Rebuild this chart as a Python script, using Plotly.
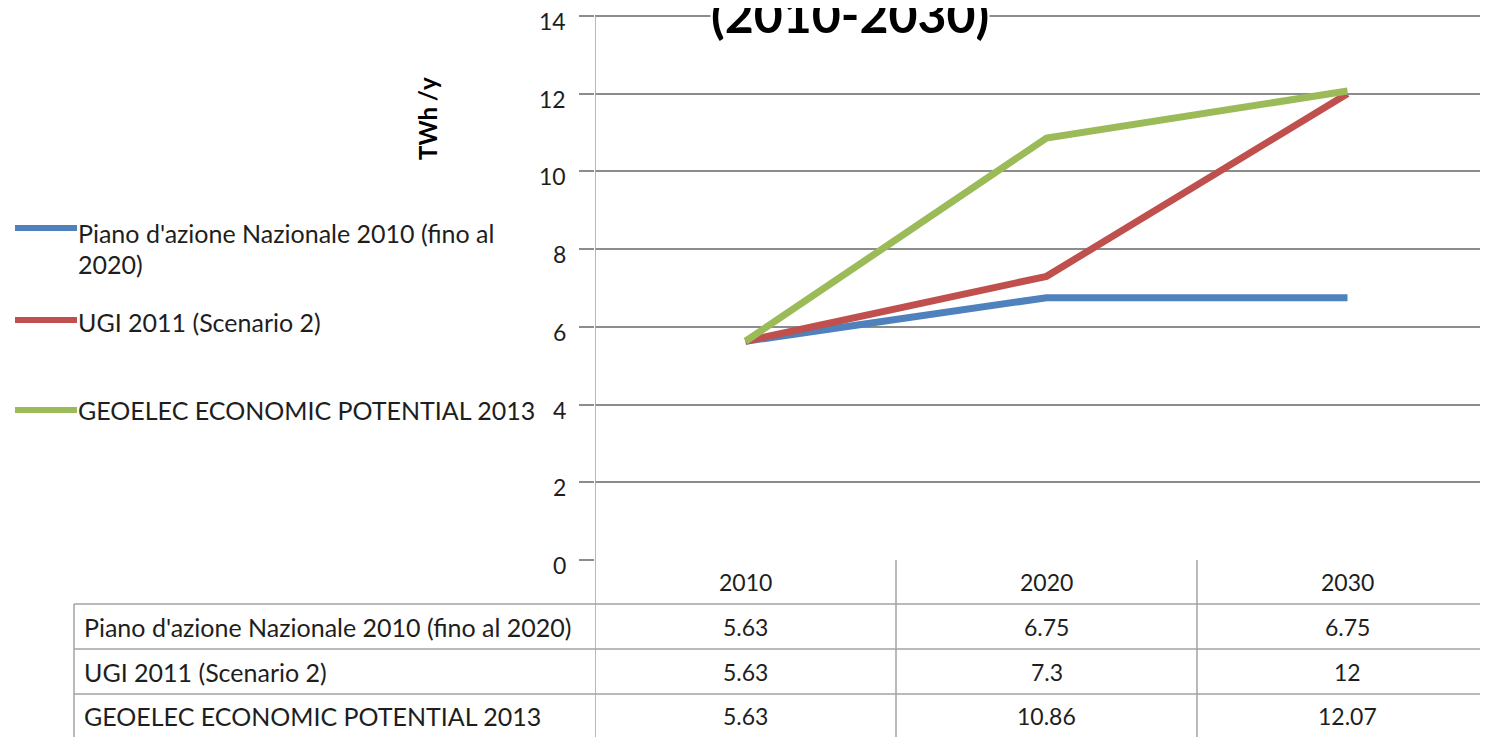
import textwrap
import plotly.graph_objects as go

# ---- data ----
years = ["2010", "2020", "2030"]
series_names = [
    "Piano d'azione Nazionale 2010 (fino al 2020)",
    "UGI 2011 (Scenario 2)",
    "GEOELEC ECONOMIC POTENTIAL 2013",
]
piano = [5.63, 6.75, 6.75]
ugi = [5.63, 7.3, 12]
geoelec = [5.63, 10.86, 12.07]
series_values = [piano, ugi, geoelec]
y_ticks = [0, 2, 4, 6, 8, 10, 12, 14]
title_text = "(2010-2030)"
y_title = "TWh /y"

# ---- style ----
W, H = 1488, 737
OFF = 8  # page offset of the figure
colors = ["#4F81BD", "#C0504D", "#9BBB59"]
FONT = "Lato"
TXT = "#1e1e1e"
GRID = "#8c8c8c"
TLINE = "#a3a3a3"
TEXT_SIZE = 25
NUM_SIZE = 23
Y_MAX = 14.05


def px(sx):
    return (sx - OFF) / W


def py(sy):
    return 1 - (sy - OFF) / H


x_idx = list(range(len(years)))
fig = go.Figure()
for name, vals, c in zip(series_names, series_values, colors):
    fig.add_trace(go.Scatter(
        x=x_idx, y=vals, mode="lines", name=name,
        line=dict(color=c, width=7), showlegend=False, cliponaxis=False,
    ))

shapes = []
annotations = []

# title
annotations.append(dict(text="<b>%s</b>" % title_text, xref="paper", yref="paper",
                        x=px(850), y=py(14), xanchor="center", yanchor="middle",
                        showarrow=False, bgcolor="white", borderpad=0,
                        font=dict(family=FONT, size=50, color="#000")))
# y axis title
annotations.append(dict(text="<b>%s</b>" % y_title, xref="paper", yref="paper",
                        x=px(428), y=py(119), xanchor="center", yanchor="middle",
                        textangle=-90, showarrow=False,
                        font=dict(family=FONT, size=24, color="#000")))

# y tick labels (placed via the y axis, sitting slightly below their gridlines)
for t in y_ticks:
    annotations.append(dict(text=f"{t:g}", xref="paper", yref="y", x=px(568), y=t,
                            xanchor="right", yanchor="middle", yshift=-5,
                            showarrow=False,
                            font=dict(family=FONT, size=NUM_SIZE, color=TXT)))

# legend (manual)
legend_line_y = [228, 320, 410]
legend_text_y = [[233, 264], [322], [410]]
for name, c, ly, tys in zip(series_names, colors, legend_line_y, legend_text_y):
    shapes.append(dict(type="line", xref="paper", yref="paper",
                       x0=px(15), x1=px(77), y0=py(ly), y1=py(ly),
                       line=dict(color=c, width=6)))
    for ln, ty in zip(textwrap.wrap(name, 38), tys):
        annotations.append(dict(text=ln, xref="paper", yref="paper",
                                x=px(76), y=py(ty), xanchor="left",
                                yanchor="middle", showarrow=False,
                                font=dict(family=FONT, size=TEXT_SIZE, color=TXT)))

# data table
row_lines = [604, 649, 694, 742]
header_y = 582
row_text_y = [627, 672, 716]
for ry in row_lines:
    shapes.append(dict(type="line", xref="paper", yref="paper",
                       x0=px(74), x1=1, y0=py(ry), y1=py(ry),
                       line=dict(color=TLINE, width=1.5)))
shapes.append(dict(type="line", xref="paper", yref="paper",
                   x0=px(74), x1=px(74), y0=py(604), y1=py(742),
                   line=dict(color=TLINE, width=1.5)))
for i in range(len(years)):
    b = i + 0.5
    shapes.append(dict(type="line", xref="x", yref="paper",
                       x0=b, x1=b, y0=py(560), y1=py(742),
                       line=dict(color=TLINE, width=1.5)))
# y axis line extended through table
shapes.append(dict(type="line", xref="x", yref="paper",
                   x0=-0.5, x1=-0.5, y0=py(16), y1=py(742),
                   line=dict(color=TLINE, width=1.5)))

for i, yr in enumerate(years):
    annotations.append(dict(text=yr, xref="x", yref="paper", x=i, y=py(header_y),
                            xanchor="center", yanchor="middle", showarrow=False,
                            font=dict(family=FONT, size=NUM_SIZE, color=TXT)))
for r, (name, vals) in enumerate(zip(series_names, series_values)):
    annotations.append(dict(text=name, xref="paper", yref="paper", x=px(82),
                            y=py(row_text_y[r]), xanchor="left", yanchor="middle",
                            showarrow=False,
                            font=dict(family=FONT, size=TEXT_SIZE, color=TXT)))
    for i, v in enumerate(vals):
        annotations.append(dict(text=f"{v:g}", xref="x", yref="paper", x=i,
                                y=py(row_text_y[r]), xanchor="center", yanchor="middle",
                                showarrow=False,
                                font=dict(family=FONT, size=NUM_SIZE, color=TXT)))

col_w = 301.0
x_right = -0.5 + (W + OFF - 595) / col_w
unit_px = (560 - 16) / 14.0
top_px = 16 - (Y_MAX - 14) * unit_px

fig.update_layout(
    width=W, height=H,
    margin=dict(l=0, r=0, t=0, b=0, autoexpand=False),
    paper_bgcolor="white", plot_bgcolor="white",
    xaxis=dict(domain=[px(595), 1], range=[-0.5, x_right], showticklabels=False,
               showgrid=False, zeroline=False, showline=False, ticks="",
               automargin=False),
    yaxis=dict(domain=[py(560), py(top_px)], range=[0, Y_MAX], tickvals=y_ticks,
               showticklabels=False,
               showgrid=True, gridcolor=GRID, gridwidth=1.5, zeroline=False,
               showline=False, ticks="outside", ticklen=15, tickcolor=GRID,
               tickwidth=1.5, automargin=False),
    shapes=shapes, annotations=annotations,
)

fig.write_html("out.html")
